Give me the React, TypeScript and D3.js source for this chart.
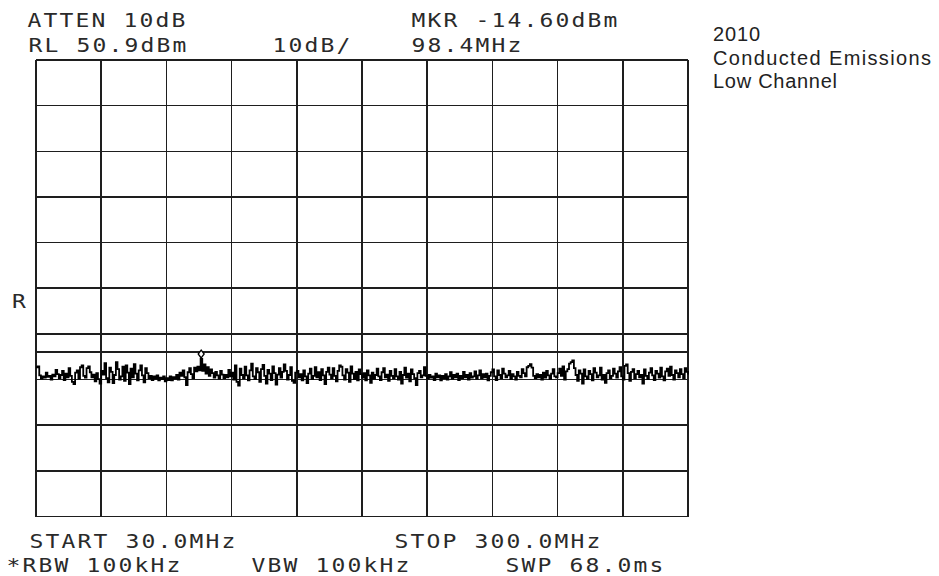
import React from "react";
import * as d3 from "d3";

// ---- Instrument settings / labels ----
const START_MHZ = 30;
const STOP_MHZ = 300;
const REF_LEVEL_DBM = 50.9;
const DB_PER_DIV = 10;
const X_DIVS = 10;
const Y_DIVS = 10;
const DISPLAY_LINE_DBM = -13;
const MARKER_MHZ = 98.4;
const MARKER_DBM = -14.6;

const headerTopLabels = ["ATTEN 10dB", "MKR -14.60dBm"];
const headerBottomLabels = ["RL 50.9dBm", "10dB/", "98.4MHz"];
const footerTopLabels = ["START 30.0MHz", "STOP 300.0MHz"];
const footerBottomLabels = ["*RBW 100kHz", "VBW 100kHz", "SWP 68.0ms"];
const refMarkLabel = "R";
const titleLines = ["2010", "Conducted Emissions", "Low Channel"];

// ---- Trace (dBm), 401 points evenly spaced from START to STOP ----
const traceDbm = [
  -16.4, -16.2, -18.2, -18.9, -18.4, -18.7, -17.6, -18.5, -18.3, -19.1, -18.0, -18.4, -17.0, -17.9, -18.8, -18.1, -17.2, -19.2, -17.8, -18.6,
  -16.6, -18.3, -19.6, -20.1, -17.6, -17.1, -18.9, -16.4, -16.0, -18.3, -18.7, -16.6, -16.2, -17.5, -18.6, -18.0, -19.5, -17.7, -19.0, -20.0,
  -17.2, -18.0, -15.5, -18.8, -19.7, -16.5, -17.4, -19.9, -18.1, -15.3, -16.8, -19.1, -18.4, -16.3, -19.4, -16.0, -17.6, -20.1, -16.7, -18.6,
  -15.7, -17.8, -19.3, -17.1, -16.0, -18.2, -19.7, -16.6, -17.7, -18.8, -18.3, -19.2, -18.4, -18.9, -18.2, -19.3, -18.7, -19.0, -18.4, -19.5,
  -18.8, -19.2, -18.4, -19.3, -18.6, -18.9, -18.1, -19.1, -17.6, -18.3, -17.1, -18.6, -20.3, -17.5, -16.6, -17.9, -18.8, -16.5, -17.3, -16.3,
  -17.1, -14.6, -17.2, -15.8, -17.8, -16.4, -18.3, -16.9, -17.7, -18.7, -17.4, -18.2, -18.9, -17.2, -18.0, -18.8, -18.1, -18.6, -17.0, -18.4,
  -17.6, -19.1, -16.0, -19.6, -20.4, -16.7, -18.1, -18.8, -16.3, -18.2, -19.3, -17.1, -15.6, -18.4, -19.0, -16.6, -17.5, -19.6, -16.8, -15.9,
  -18.3, -20.0, -17.0, -17.8, -19.2, -16.2, -17.7, -20.2, -18.0, -16.6, -18.7, -17.4, -15.8, -17.2, -19.1, -18.1, -16.4, -19.4, -19.8, -17.6,
  -17.2, -18.6, -17.9, -19.3, -17.1, -18.4, -19.9, -17.8, -16.7, -19.0, -18.3, -16.4, -18.6, -17.5, -19.2, -16.8, -18.2, -20.1, -17.4, -16.5,
  -18.0, -18.8, -16.6, -18.3, -19.5, -17.2, -16.0, -16.3, -18.2, -19.1, -16.8, -17.6, -19.6, -16.2, -17.8, -19.0, -17.4, -19.3, -16.9, -17.9,
  -18.7, -17.7, -19.3, -17.1, -18.2, -19.8, -17.6, -18.9, -18.1, -16.7, -18.4, -19.2, -17.5, -16.6, -18.6, -18.0, -19.4, -17.2, -18.3, -18.8,
  -16.8, -18.4, -19.1, -17.4, -20.0, -18.1, -16.5, -18.7, -17.8, -19.5, -16.9, -17.9, -18.8, -20.3, -17.7, -17.2, -18.6, -18.2, -16.4, -18.3,
  -18.9, -18.1, -18.7, -18.4, -19.2, -17.8, -18.6, -18.2, -19.3, -18.3, -18.8, -17.9, -19.1, -18.4, -17.5, -18.9, -18.1, -18.6, -17.8, -19.2,
  -18.3, -18.8, -17.4, -18.6, -18.1, -19.1, -17.7, -18.7, -18.4, -17.3, -18.9, -18.2, -17.1, -18.8, -17.9, -18.6, -17.8, -19.3, -18.3, -17.5,
  -16.9, -18.4, -19.2, -17.1, -18.1, -18.8, -16.7, -17.8, -18.6, -18.2, -17.2, -19.0, -17.9, -18.4, -19.1, -17.4, -18.3, -18.6, -16.8, -17.7,
  -18.4, -16.4, -16.1, -15.7, -16.5, -18.3, -18.8, -17.9, -18.6, -18.1, -19.1, -17.6, -18.7, -17.2, -18.2, -19.0, -17.8, -16.8, -18.4, -18.6,
  -17.7, -16.7, -18.3, -16.2, -19.1, -17.3, -16.8, -15.6, -15.3, -14.9, -16.6, -18.1, -19.4, -17.1, -17.8, -20.0, -16.9, -18.4, -19.0, -17.2,
  -17.9, -19.3, -16.6, -17.6, -18.6, -18.2, -16.5, -19.1, -18.1, -19.8, -17.7, -17.1, -18.8, -18.3, -16.7, -17.8, -18.7, -17.3, -16.4, -18.4,
  -19.1, -16.1, -15.8, -17.7, -19.4, -17.4, -16.8, -18.8, -17.9, -17.2, -18.6, -18.1, -20.0, -16.9, -18.3, -19.0, -17.6, -16.6, -18.2, -19.2,
  -17.2, -17.8, -18.7, -16.5, -18.4, -19.3, -17.3, -16.7, -18.3, -16.3, -18.1, -19.1, -17.1, -17.7, -18.6, -16.8, -17.9, -18.8, -16.6, -17.4,
  -18.0,
];

const W = 939;
const H = 576;
const PLOT = { left: 36, right: 688, top: 60, bottom: 516.5 };
const CELL = 16;
const SX = 1.15;
const MONO = "'DejaVu Sans Mono', 'Liberation Mono', monospace";
const INK = "#1e1e1e";

function MonoText({ text, left, baseline, size = 20 }: { text: string; left: number; baseline: number; size?: number }) {
  const xs = text.split("").map((_, i) => (6.5 + i * CELL) / SX);
  return (
    <g transform={`translate(${left},${baseline}) scale(${SX},1)`}>
      <text
        x={xs.join(" ")}
        y={0}
        textAnchor="middle"
        fontFamily={MONO}
        fontSize={size}
        fill="#2a2a2a"
        style={{ whiteSpace: "pre" }}
      >
        {text}
      </text>
    </g>
  );
}

export default function App() {
  const x = d3.scaleLinear().domain([START_MHZ, STOP_MHZ]).range([PLOT.left, PLOT.right]);
  const y = d3
    .scaleLinear()
    .domain([REF_LEVEL_DBM - DB_PER_DIV * Y_DIVS, REF_LEVEL_DBM])
    .range([PLOT.bottom, PLOT.top]);

  const step = (STOP_MHZ - START_MHZ) / (traceDbm.length - 1);
  const pts: [number, number][] = traceDbm.map((v, i) => [START_MHZ + i * step, v]);
  const line = d3
    .line<[number, number]>()
    .x((d) => x(d[0]))
    .y((d) => y(d[1]))
    .curve(d3.curveStepAfter);

  const vTicks = d3.range(X_DIVS + 1).map((k) => START_MHZ + ((STOP_MHZ - START_MHZ) / X_DIVS) * k);
  const hTicks = d3.range(Y_DIVS + 1).map((k) => REF_LEVEL_DBM - DB_PER_DIV * k);

  const mx = x(MARKER_MHZ);
  const my = y(MARKER_DBM);

  return (
    <svg
      width={W}
      height={H}
      viewBox={`0 0 ${W} ${H}`}
      style={{ position: "absolute", left: 0, top: 0, background: "#fff" }}
    >
      <rect x={0} y={0} width={W} height={H} fill="#fff" />
      {/* grid */}
      <g stroke={INK} strokeWidth={1.6} shapeRendering="crispEdges">
        {vTicks.map((f, i) => (
          <line key={"v" + i} x1={x(f)} x2={x(f)} y1={PLOT.top} y2={PLOT.bottom} />
        ))}
        {hTicks.map((d, i) => (
          <line key={"h" + i} x1={PLOT.left} x2={PLOT.right} y1={y(d)} y2={y(d)} />
        ))}
        {/* display line */}
        <line x1={PLOT.left} x2={PLOT.right} y1={y(DISPLAY_LINE_DBM)} y2={y(DISPLAY_LINE_DBM)} />
      </g>
      {/* trace */}
      <path d={line(pts) || ""} fill="none" stroke="#000" strokeWidth={1.8} />
      {/* marker */}
      <path
        d={`M${mx},${my - 1} L${mx - 3},${my - 5} L${mx},${my - 9} L${mx + 3},${my - 5} Z`}
        fill="#fff"
        stroke="#000"
        strokeWidth={1.3}
      />
      {/* header */}
      <MonoText text={headerTopLabels[0]} left={28} baseline={27} />
      <MonoText text={headerTopLabels[1]} left={412} baseline={27} />
      <MonoText text={headerBottomLabels[0]} left={29} baseline={52} />
      <MonoText text={headerBottomLabels[1]} left={273} baseline={52} />
      <MonoText text={headerBottomLabels[2]} left={412} baseline={52} />
      <MonoText text={refMarkLabel} left={12.5} baseline={308} />
      {/* footer */}
      <MonoText text={footerTopLabels[0]} left={30} baseline={548} />
      <MonoText text={footerTopLabels[1]} left={395} baseline={548} />
      <MonoText text={footerBottomLabels[0]} left={7} baseline={572} />
      <MonoText text={footerBottomLabels[1]} left={252} baseline={572} />
      <MonoText text={footerBottomLabels[2]} left={506} baseline={572} />
      {/* title */}
      {titleLines.map((t, i) => (
        <text
          key={t}
          x={713}
          y={41 + i * 23.5}
          fontFamily="'Liberation Sans', Arial, sans-serif"
          fontSize={20}
          fill="#222"
          textLength={[47, 218, 124][i]}
          lengthAdjust="spacing"
        >
          {t}
        </text>
      ))}
    </svg>
  );
}
